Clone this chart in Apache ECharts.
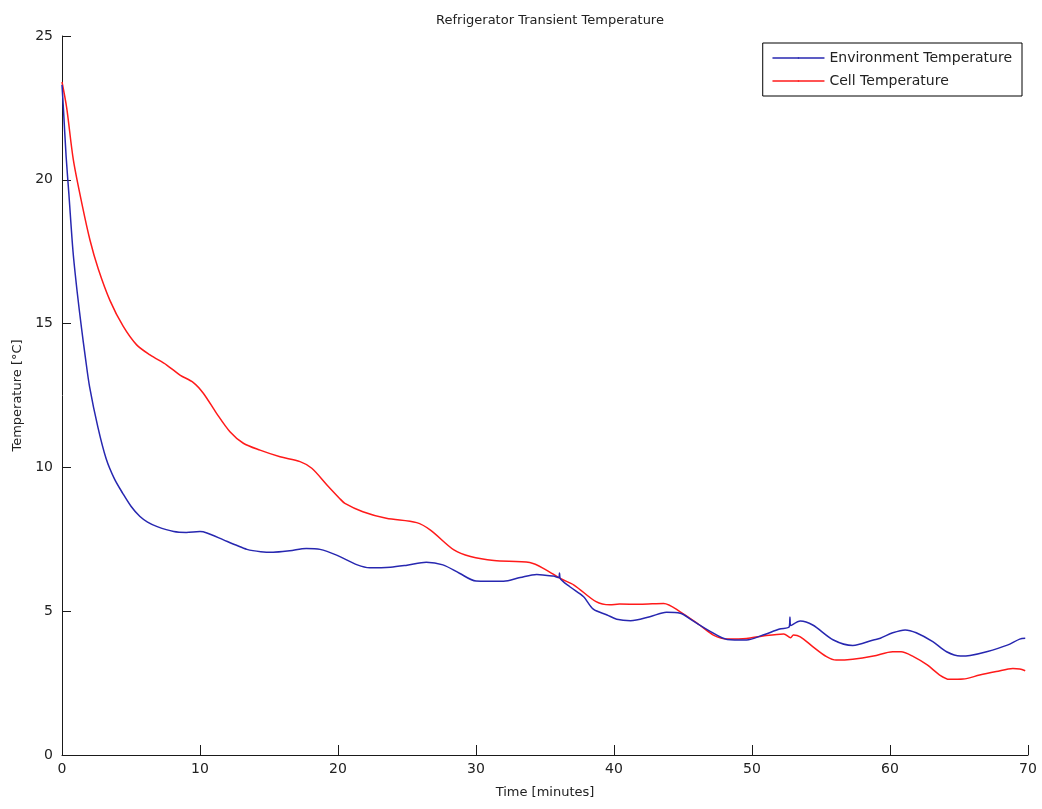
<!DOCTYPE html>
<html>
<head>
<meta charset="utf-8">
<title>Refrigerator Transient Temperature</title>
<script src="https://cdn.jsdelivr.net/npm/echarts@6/dist/echarts.min.js"></script>
<style>
  html, body { margin: 0; padding: 0; background: #fff; }
  #chart { width: 1042px; height: 809px; }
</style>
</head>
<body>
<div id="chart"></div>
<script>
// Environment temperature readings: time in minutes, temperature in °C
const envTime = [0, 0.1, 0.3, 0.5, 0.8, 1.1, 1.4, 1.7, 2.0, 2.6, 3.2, 3.8, 4.4, 5.0, 5.65, 6.2, 6.9, 8.1, 9.0, 10.0, 10.5, 11.7, 12.6, 13.4, 14.4, 15.3, 16.5, 17.7, 18.7, 19.9, 21.4, 22.3, 23.8, 25.0, 26.4, 27.6, 28.8, 30.0, 32.0, 33.2, 34.4, 35.6, 36.0, 36.05, 36.1, 36.8, 37.8, 38.5, 39.5, 40.2, 41.2, 42.6, 43.8, 44.8, 45.7, 47.0, 48.2, 49.6, 50.8, 52.0, 52.7, 52.75, 52.8, 53.5, 54.4, 55.9, 57.3, 58.8, 59.3, 60.2, 61.1, 61.9, 63.1, 64.1, 65.1, 65.8, 67.0, 68.5, 69.4, 69.8];
const envTemp = [23.3, 22.5, 20.8, 19.5, 17.5, 16.1, 14.9, 13.8, 12.8, 11.4, 10.3, 9.6, 9.1, 8.65, 8.29, 8.1, 7.94, 7.77, 7.74, 7.77, 7.72, 7.48, 7.3, 7.15, 7.07, 7.05, 7.1, 7.18, 7.15, 6.95, 6.61, 6.51, 6.53, 6.6, 6.7, 6.61, 6.32, 6.05, 6.04, 6.17, 6.28, 6.22, 6.17, 6.33, 6.14, 5.85, 5.5, 5.07, 4.87, 4.72, 4.67, 4.81, 4.96, 4.93, 4.67, 4.29, 4.02, 4.0, 4.17, 4.38, 4.46, 4.8, 4.5, 4.66, 4.52, 4.0, 3.81, 4.0, 4.06, 4.25, 4.35, 4.25, 3.94, 3.59, 3.44, 3.46, 3.59, 3.82, 4.03, 4.06];

// Cell temperature readings: time in minutes, temperature in °C
const cellTime = [0, 0.34, 0.82, 1.43, 2.03, 2.63, 3.48, 4.44, 5.41, 6.38, 7.59, 8.55, 9.52, 10.24, 11.2, 12.17, 13.14, 14.35, 15.8, 17.25, 18.1, 19.2, 20.1, 20.5, 21.8, 23.5, 25.7, 26.7, 28.4, 29.6, 31.3, 33.9, 35.1, 36.1, 37.1, 38.7, 39.7, 40.4, 41.9, 43.6, 44.8, 46.2, 47.2, 48.2, 49.6, 50.8, 52.3, 52.8, 53.0, 53.5, 54.4, 55.4, 56.1, 57.3, 58.8, 60.2, 60.8, 61.7, 62.7, 63.6, 64.3, 65.3, 66.5, 67.7, 68.9, 69.4, 69.8];
const cellTemp = [23.4, 22.5, 20.7, 19.2, 17.9, 16.9, 15.8, 14.9, 14.26, 13.91, 13.56, 13.21, 12.95, 12.58, 11.88, 11.24, 10.84, 10.6, 10.37, 10.2, 9.97, 9.39, 8.93, 8.75, 8.46, 8.23, 8.08, 7.82, 7.13, 6.9, 6.76, 6.69, 6.43, 6.14, 5.91, 5.33, 5.22, 5.25, 5.24, 5.27, 4.98, 4.52, 4.17, 4.03, 4.05, 4.14, 4.21, 4.08, 4.17, 4.11, 3.77, 3.42, 3.3, 3.33, 3.44, 3.59, 3.59, 3.42, 3.13, 2.78, 2.63, 2.64, 2.78, 2.9, 3.01, 2.99, 2.93];

// Axis ranges and tick spacing
const timeTicks = { min: 0, max: 70, interval: 10 };
const tempTicks = { min: 0, max: 25, interval: 5 };

const seriesNames = ['Environment Temperature', 'Cell Temperature'];

const zip = (xs, ys) => xs.map((x, i) => [x, ys[i]]);

const FONT = 'DejaVu Sans';
const TEXT = '#222';
const AXIS = '#1a1a1a';
const BLUE = '#2727b0';
const RED = '#ff1a1a';

const chart = echarts.init(document.getElementById('chart'), null, { renderer: 'canvas' });

const axisCommon = {
  type: 'value',
  axisLine: { show: true, onZero: false, lineStyle: { color: AXIS, width: 1 } },
  axisTick: { show: true, inside: true, lineStyle: { color: AXIS, width: 1 } },
  splitLine: { show: false },
  axisLabel: { color: TEXT, fontSize: 14, fontFamily: FONT },
  nameLocation: 'middle',
  nameTextStyle: { color: TEXT, fontSize: 13, fontFamily: FONT }
};

chart.setOption({
  animation: false,
  backgroundColor: '#fff',
  title: {
    text: 'Refrigerator Transient Temperature',
    left: 545,
    top: 9,
    textAlign: 'center',
    textStyle: { color: TEXT, fontSize: 13, fontWeight: 'normal', fontFamily: FONT }
  },
  legend: {
    data: seriesNames,
    orient: 'vertical',
    right: 20,
    top: 43,
    backgroundColor: '#fff',
    borderColor: '#000',
    borderWidth: 1,
    borderRadius: 0,
    padding: [8, 10, 8, 9],
    itemWidth: 52,
    itemHeight: 2,
    itemGap: 9,
    lineStyle: { width: 1.5 },
    textStyle: { color: TEXT, fontSize: 14, fontFamily: FONT, lineHeight: 14 }
  },
  grid: { left: 62, right: 14, top: 36, bottom: 54 },
  xAxis: Object.assign({}, axisCommon, {
    min: timeTicks.min, max: timeTicks.max, interval: timeTicks.interval,
    name: 'Time [minutes]',
    nameGap: 31,
    axisTick: Object.assign({}, axisCommon.axisTick, { length: 10 }),
    axisLabel: Object.assign({}, axisCommon.axisLabel, { margin: 7 })
  }),
  yAxis: Object.assign({}, axisCommon, {
    min: tempTicks.min, max: tempTicks.max, interval: tempTicks.interval,
    name: 'Temperature [°C]',
    nameGap: 35,
    axisTick: Object.assign({}, axisCommon.axisTick, { length: 9 }),
    axisLabel: Object.assign({}, axisCommon.axisLabel, { margin: 9 })
  }),
  series: [
    {
      name: seriesNames[0],
      type: 'line',
      data: zip(envTime, envTemp),
      symbol: 'none',
      smooth: 0.3,
      color: BLUE,
      lineStyle: { color: BLUE, width: 1.5 },
      z: 3
    },
    {
      name: seriesNames[1],
      type: 'line',
      data: zip(cellTime, cellTemp),
      symbol: 'none',
      smooth: 0.3,
      color: RED,
      lineStyle: { color: RED, width: 1.5 },
      z: 2
    }
  ]
});
</script>
</body>
</html>
